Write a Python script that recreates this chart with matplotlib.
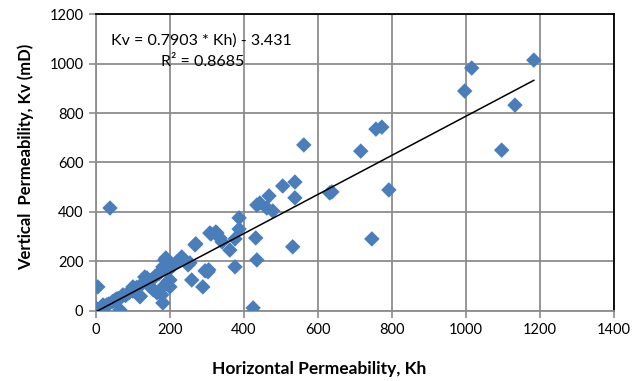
import numpy as np
import matplotlib.pyplot as plt

# horizontal (Kh) and vertical (Kv) permeability
kh = [1184, 1016, 997, 1133, 1097, 773, 757, 716, 792, 746, 562, 638, 632,
      538, 505, 538, 532, 468, 462, 478, 435, 443, 432, 435, 425, 387, 387,
      376, 376, 362, 335, 324, 311, 270, 341, 232, 189, 181, 227, 249, 259,
      289, 295, 303, 138, 100, 181, 181, 65, 200, 165, 119, 38, 5, 0, 186,
      132, 178, 73, 19, 205, 200, 268, 308, 327, 254, 305, 10, 15, 25, 30,
      45, 50, 55, 60, 70, 80, 90, 100, 110, 120, 125, 140, 150, 160, 170,
      175, 185, 195, 210, 220, 3, 8, 35, 85, 145, 155]
kv = [1014, 982, 889, 832, 650, 743, 735, 646, 489, 291, 671, 481, 477,
      521, 505, 457, 259, 465, 416, 404, 428, 436, 295, 206, 12, 376, 331,
      291, 178, 246, 295, 319, 311, 271, 279, 218, 214, 178, 206, 186, 125,
      97, 162, 158, 133, 97, 97, 32, 4, 125, 73, 57, 416, 97, 12, 206,
      137, 65, 65, 24, 178, 97, 267, 315, 315, 194, 166, 8, 12, 20, 25,
      38, 42, 48, 50, 58, 62, 75, 80, 95, 60, 110, 118, 125, 140, 150,
      160, 170, 120, 185, 200, 2, 5, 28, 70, 100, 85]

# trendline from the chart
slope = 0.7903
intercept = -3.431

x_ticks = [0, 200, 400, 600, 800, 1000, 1200, 1400]
y_ticks = [0, 200, 400, 600, 800, 1000, 1200]

plt.rcParams['font.family'] = ['Lato', 'DejaVu Sans']

fig = plt.figure(figsize=(6.44, 3.81), dpi=100)
ax = fig.add_axes([0.149, 0.184, 0.804, 0.779])

ax.scatter(kh, kv, marker='D', s=62, color='#4a7ebb', edgecolors='none', zorder=3)

xl = np.array([min(kh), max(kh)])
ax.plot(xl, slope * xl + intercept, color='black', lw=1.1, zorder=4)

ax.set_xlim(0, 1400)
ax.set_ylim(0, 1200)
ax.set_xticks(x_ticks)
ax.set_yticks(y_ticks)
ax.grid(True, color='#8c8c8c', lw=1.3)
ax.set_axisbelow(True)

for s in ['top', 'right']:
    ax.spines[s].set_color('black')
    ax.spines[s].set_linewidth(1.3)
for s in ['left', 'bottom']:
    ax.spines[s].set_color('#8c8c8c')
    ax.spines[s].set_linewidth(1.3)
ax.tick_params(direction='out', length=5, width=1.2, color='#8c8c8c',
               labelsize=10.5, pad=4)

# axis titles (x title is centred on the whole chart, like Excel does)
fig.text(0.495, 0.032, 'Horizontal Permeability, Kh', fontsize=12.5,
         fontweight='bold', ha='center', va='center')
ax.set_ylabel('Vertical  Permeability, Kv (mD)', fontsize=12, fontweight='bold')
ax.yaxis.set_label_coords(-0.12, 0.52)

ax.text(40, 1095, 'Kv = 0.7903 * Kh) - 3.431', fontsize=11.5, va='center')
ax.text(175, 1008, 'R² = 0.8685', fontsize=11.5, va='center')

plt.savefig('out.png', dpi=100)
